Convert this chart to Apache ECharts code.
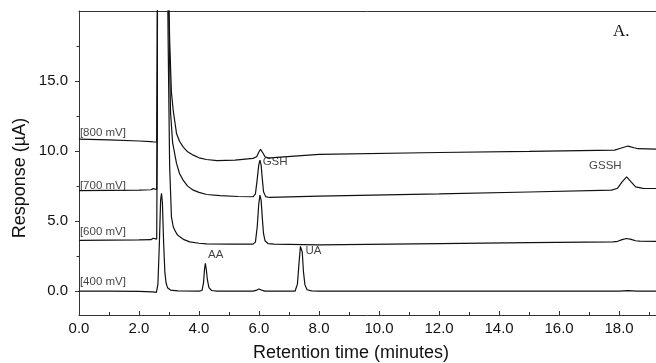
<!DOCTYPE html>
<html>
<head>
<meta charset="utf-8">
<script src="https://cdn.jsdelivr.net/npm/echarts@6/dist/echarts.min.js"></script>
<style>
  html, body { margin: 0; padding: 0; background: #fff; }
  #chart { width: 656px; height: 363px; }
</style>
</head>
<body>
<div id="chart"></div>
<script>
// Chromatogram traces, [retention time (min), response (uA)]
const trace400 = [
  [0, 0.0], [1.0, 0.0], [2.0, -0.02], [2.45, -0.05], [2.58, -0.08], [2.63, 0.5], [2.68, 3.5],
  [2.72, 6.5], [2.75, 6.98], [2.78, 6.3], [2.82, 3.5], [2.86, 1.4], [2.9, 0.6], [2.95, 0.25],
  [3.05, 0.08], [3.3, 0.02], [4.0, 0.0], [4.1, 0.05], [4.15, 0.6], [4.18, 1.5], [4.21, 1.98],
  [4.24, 1.6], [4.28, 0.8], [4.33, 0.25], [4.42, 0.05], [4.6, 0.0], [5.8, 0.0], [5.93, 0.08],
  [6.0, 0.16], [6.08, 0.08], [6.2, 0.0], [7.2, 0.0], [7.28, 0.5], [7.34, 2.2], [7.38, 3.2],
  [7.41, 3.33], [7.44, 2.8], [7.48, 1.4], [7.53, 0.45], [7.6, 0.1], [7.75, 0.02], [8.0, 0.0],
  [18.0, 0.0], [18.3, 0.04], [18.6, 0.0], [19.23, 0.0]
];
const trace600 = [
  [0, 3.62], [1.0, 3.64], [2.0, 3.66], [2.4, 3.68], [2.47, 3.78], [2.52, 3.7], [2.59, 3.72],
  [2.61, 12], [2.62, 28], [2.8, 40], [2.93, 28], [2.97, 18], [3.02, 9], [3.08, 5.31],
  [3.14, 4.6], [3.19, 4.36], [3.27, 4.05], [3.36, 3.88], [3.5, 3.68], [3.69, 3.52], [4.0, 3.42],
  [4.25, 3.38], [5.0, 3.36], [5.8, 3.36], [5.88, 3.5], [5.94, 4.6], [5.99, 6.2], [6.03, 6.86],
  [6.07, 6.5], [6.11, 5.2], [6.15, 4.1], [6.2, 3.6], [6.3, 3.4], [6.5, 3.36], [8.0, 3.3],
  [12.0, 3.4], [15.0, 3.47], [17.8, 3.52], [17.95, 3.56], [18.1, 3.68], [18.25, 3.76],
  [18.4, 3.7], [18.55, 3.6], [18.69, 3.57], [19.23, 3.56]
];
const trace700 = [
  [0, 7.18], [1.0, 7.2], [2.0, 7.22], [2.4, 7.24], [2.47, 7.32], [2.52, 7.25], [2.59, 7.26],
  [2.61, 14], [2.62, 30], [2.8, 42], [2.95, 26], [2.99, 20], [3.05, 12.8], [3.12, 10.6],
  [3.25, 9.12], [3.35, 8.4], [3.47, 7.93], [3.62, 7.5], [3.81, 7.21], [4.0, 7.05], [4.25, 6.9],
  [4.7, 6.82], [5.3, 6.76], [5.8, 6.74], [5.88, 6.95], [5.94, 8.0], [5.99, 9.0], [6.03, 9.36],
  [6.07, 9.0], [6.11, 8.0], [6.15, 7.1], [6.22, 6.75], [6.35, 6.69], [8.0, 6.79], [12.0, 6.95],
  [15.0, 7.08], [17.75, 7.21], [17.95, 7.35], [18.1, 7.8], [18.25, 8.16], [18.4, 7.8],
  [18.55, 7.45], [18.8, 7.34], [19.23, 7.33]
];
const trace800 = [
  [0, 10.85], [1.0, 10.8], [2.0, 10.72], [2.4, 10.68], [2.5, 10.65], [2.59, 10.66], [2.61, 18],
  [2.62, 30], [2.8, 44], [2.97, 24], [3.02, 18], [3.08, 14.2], [3.14, 12.9], [3.25, 11.26],
  [3.35, 10.7], [3.47, 10.3], [3.62, 9.95], [3.81, 9.71], [4.0, 9.52], [4.25, 9.4], [4.6, 9.32],
  [5.2, 9.35], [5.8, 9.48], [5.92, 9.6], [6.0, 9.95], [6.05, 10.12], [6.12, 9.9], [6.2, 9.6],
  [6.3, 9.5], [6.6, 9.55], [8.0, 9.76], [12.0, 9.9], [15.0, 9.98], [17.85, 10.07],
  [18.05, 10.2], [18.3, 10.36], [18.5, 10.24], [18.63, 10.17], [19.23, 10.14]
];

// Text annotations (anchored in data coordinates)
const noteText = ['[800 mV]', '[700 mV]', '[600 mV]', '[400 mV]', 'GSH', 'AA', 'UA', 'GSSH'];
const noteX = [0.03, 0.03, 0.03, 0.03, 6.12, 4.3, 7.55, 17.0];
const noteY = [11.29, 7.5, 4.24, 0.66, 9.21, 2.6, 2.87, 8.94];

const yLabelTicks = [0, 5, 10, 15];
const yMinorTicks = [2.5, 7.5, 12.5, 17.5];

const X_MIN = 0, X_MAX = 19.23;
const Y_MIN = -1.7, Y_MAX = 20;

const lineColor = '#111';
const axisColor = '#333';
const font = 'Liberation Sans, Arial, sans-serif';

const chart = echarts.init(document.getElementById('chart'));

const traceSeries = (name, data) => ({
  name,
  type: 'line',
  data,
  showSymbol: false,
  clip: true,
  lineStyle: { color: lineColor, width: 1.2 },
  itemStyle: { color: lineColor },
  animation: false,
});

const option = {
  animation: false,
  grid: { left: 79, right: 0, top: 11, bottom: 48 },
  xAxis: [
    {
      type: 'value',
      min: X_MIN,
      max: X_MAX,
      interval: 2,
      axisLine: { show: true, onZero: false, lineStyle: { color: axisColor, width: 1 } },
      axisTick: { show: true, inside: true, length: 4, lineStyle: { color: axisColor } },
      minorTick: { show: true, splitNumber: 2, length: 3, lineStyle: { color: axisColor } },
      axisLabel: {
        margin: 6, fontSize: 15, color: '#111', fontFamily: font,
        showMaxLabel: false,
        formatter: (v) => v.toFixed(1),
      },
      splitLine: { show: false },
    },
    {
      type: 'value',
      position: 'top',
      min: X_MIN,
      max: X_MAX,
      axisLine: { show: true, onZero: false, lineStyle: { color: axisColor, width: 1 } },
      axisTick: { show: false },
      axisLabel: { show: false },
      splitLine: { show: false },
    },
  ],
  yAxis: [
    {
      type: 'value',
      min: Y_MIN,
      max: Y_MAX,
      axisLine: { show: true, onZero: false, lineStyle: { color: axisColor, width: 1 } },
      axisTick: { show: true, length: 4, customValues: yLabelTicks, lineStyle: { color: axisColor } },
      axisLabel: {
        margin: 11, fontSize: 15, color: '#111', fontFamily: font,
        customValues: yLabelTicks,
        formatter: (v) => v.toFixed(1),
      },
      splitLine: { show: false },
    },
    {
      // minor ticks only
      type: 'value',
      position: 'left',
      min: Y_MIN,
      max: Y_MAX,
      axisLine: { show: false, onZero: false },
      axisTick: { show: true, length: 2.5, customValues: yMinorTicks, lineStyle: { color: axisColor } },
      axisLabel: { show: false },
      splitLine: { show: false },
    },
  ],
  series: [
    traceSeries('400 mV', trace400),
    traceSeries('600 mV', trace600),
    traceSeries('700 mV', trace700),
    traceSeries('800 mV', trace800),
    {
      name: 'notes',
      type: 'scatter',
      symbolSize: 0,
      silent: true,
      data: noteText.map((t, i) => ({ value: [noteX[i], noteY[i]], name: t })),
      label: {
        show: true,
        position: 'right',
        distance: 0,
        formatter: (p) => p.name,
        fontSize: 11.5,
        color: '#111',
        fontFamily: font,
      },
      animation: false,
    },
  ],
  graphic: [
    {
      type: 'text',
      x: 20,
      y: 178,
      rotation: Math.PI / 2,
      style: {
        text: 'Response (\u00b5A)',
        fontSize: 18,
        fontFamily: font,
        fill: '#111',
        align: 'center',
        verticalAlign: 'middle',
      },
    },
    {
      type: 'text',
      x: 351,
      y: 353,
      style: {
        text: 'Retention time (minutes)',
        fontSize: 18,
        fontFamily: font,
        fill: '#111',
        align: 'center',
        verticalAlign: 'middle',
      },
    },
    {
      type: 'text',
      x: 613,
      y: 32,
      style: {
        text: 'A.',
        fontSize: 17,
        fontFamily: 'Liberation Serif, Times New Roman, serif',
        fill: '#111',
        align: 'left',
        verticalAlign: 'middle',
      },
    },
  ],
};

chart.setOption(option);
</script>
</body>
</html>
